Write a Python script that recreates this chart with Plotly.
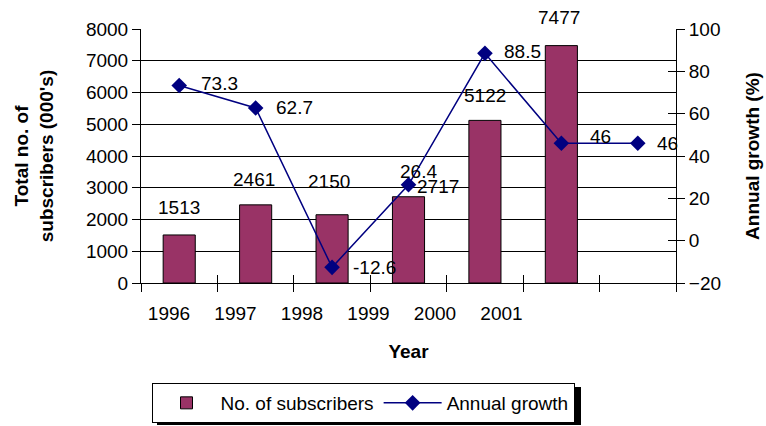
import plotly.graph_objects as go

# Subscriber totals (000's) by year and annual growth (%)
years = ["1996", "1997", "1998", "1999", "2000", "2001"]
subscribers = [1513, 2461, 2150, 2717, 5122, 7477]
growth = [73.3, 62.7, -12.6, 26.4, 88.5, 46, 46]

# label offsets (px) for the value labels
bar_label_shift = [(0, 27), (-2, 25), (-3, 33), (29, 10), (0, 25), (-2, 28)]
line_label_shift = [("left", 20, 2), ("left", 18, 0), ("left", 19, 0), ("center", 10, 13),
                    ("left", 17, 2), ("center", 39, 7), ("left", 17, 0)]

FONT = "Liberation Sans, Arial, sans-serif"
FS = 19
BAR_COLOR = "#993366"
LINE_COLOR = "#000080"

bar_x = list(range(len(subscribers)))
line_x = list(range(len(growth)))
n_slots = len(growth)

fig = go.Figure()
fig.add_trace(go.Bar(
    x=bar_x, y=subscribers, width=0.42, name="No. of subscribers",
    marker=dict(color=BAR_COLOR, line=dict(color="black", width=1)),
    xaxis="x", yaxis="y",
))
fig.add_trace(go.Scatter(
    x=line_x, y=growth, name="Annual growth", mode="lines+markers",
    line=dict(color=LINE_COLOR, width=1.5),
    marker=dict(symbol="diamond", size=12, color=LINE_COLOR),
    xaxis="x", yaxis="y2",
))
# carriers for the year labels and the inner halves of the cross ticks
for xa, ya in (("x2", "y"), ("x3", "y3"), ("x3", "y4")):
    fig.add_trace(go.Scatter(x=[None], y=[None], xaxis=xa, yaxis=ya,
                             showlegend=False, hoverinfo="skip"))

annotations = []
for i, v in enumerate(subscribers):
    dx, dy = bar_label_shift[i]
    annotations.append(dict(x=bar_x[i], y=v, xref="x", yref="y", text=str(v),
                            showarrow=False, xanchor="center", yanchor="middle",
                            xshift=dx, yshift=dy, font=dict(size=FS, color="black", family=FONT)))
for i, v in enumerate(growth):
    anc, dx, dy = line_label_shift[i]
    annotations.append(dict(x=line_x[i], y=v, xref="x", yref="y2", text=f"{v:g}",
                            showarrow=False, xanchor=anc, yanchor="middle",
                            xshift=dx, yshift=dy, font=dict(size=FS, color="black", family=FONT)))

# legend drop shadow
shapes = [dict(type="rect", xref="paper", yref="paper", layer="above",
               x0=(157 - 141) / 535, x1=(581 - 141) / 535,
               y0=(283 - 425) / 254, y1=(283 - 387) / 254,
               fillcolor="black", line=dict(width=0))]

tick_common = dict(tickcolor="black", ticklen=8, showticklabels=False,
                   showgrid=False, zeroline=False, showline=False)

fig.update_layout(
    width=766, height=426,
    margin=dict(l=141, r=90, t=29, b=143),
    paper_bgcolor="white", plot_bgcolor="white",
    font=dict(family=FONT, size=FS, color="black"),
    showlegend=True,
    legend=dict(orientation="h", xref="container", yref="container",
                x=363 / 766, xanchor="center", y=1 - 383 / 426, yanchor="top",
                bordercolor="black", borderwidth=1, bgcolor="white",
                font=dict(size=FS, family=FONT), itemwidth=58, tracegroupgap=0),
    xaxis=dict(range=[-0.5, n_slots - 0.5], showgrid=False, zeroline=False,
               showline=True, linecolor="black", linewidth=1, automargin=False,
               tickvals=[i - 0.5 for i in range(n_slots + 1)], ticks="outside",
               ticklen=8, tickcolor="black", showticklabels=False),
    xaxis2=dict(overlaying="x", anchor="y", side="bottom", automargin=False,
                range=[-0.421, 7.624], showgrid=False, zeroline=False, showline=False,
                tickvals=list(range(len(years))), ticktext=years,
                ticks="outside", ticklen=13, tickcolor="rgba(0,0,0,0)",
                tickfont=dict(size=FS, family=FONT),
                title=dict(text="<b>Year</b>", font=dict(size=FS, family=FONT), standoff=21)),
    xaxis3=dict(overlaying="x", anchor="y", side="bottom", range=[-0.5, n_slots - 0.5],
                automargin=False,
                tickvals=[i - 0.5 for i in range(n_slots + 1)], ticks="inside", **tick_common),
    yaxis=dict(range=[0, 8000], dtick=1000, showgrid=True, gridcolor="black", gridwidth=1,
               zeroline=False, showline=True, linecolor="black", linewidth=1, automargin=False,
               ticks="outside", ticklen=8, tickcolor="black",
               tickfont=dict(size=FS, family=FONT),
               title=dict(text="<b>Total no. of<br>subscribers (000's)</b>",
                          font=dict(size=FS, family=FONT), standoff=27)),
    yaxis2=dict(range=[-20, 100], dtick=20, overlaying="y", side="right", anchor="x",
                showgrid=False, zeroline=False, showline=True, linecolor="black", linewidth=1,
                automargin=False, ticks="outside", ticklen=8, tickcolor="black",
                tickfont=dict(size=FS, family=FONT),
                title=dict(text="<b>Annual growth (%)</b>",
                           font=dict(size=FS, family=FONT), standoff=25)),
    yaxis3=dict(range=[0, 8000], dtick=1000, overlaying="y", side="left", anchor="x3",
                automargin=False, ticks="inside", **tick_common),
    yaxis4=dict(range=[-20, 100], dtick=20, overlaying="y", side="right", anchor="x3",
                automargin=False, ticks="inside", **tick_common),
    annotations=annotations,
    shapes=shapes,
)

fig.write_html("out.html")
